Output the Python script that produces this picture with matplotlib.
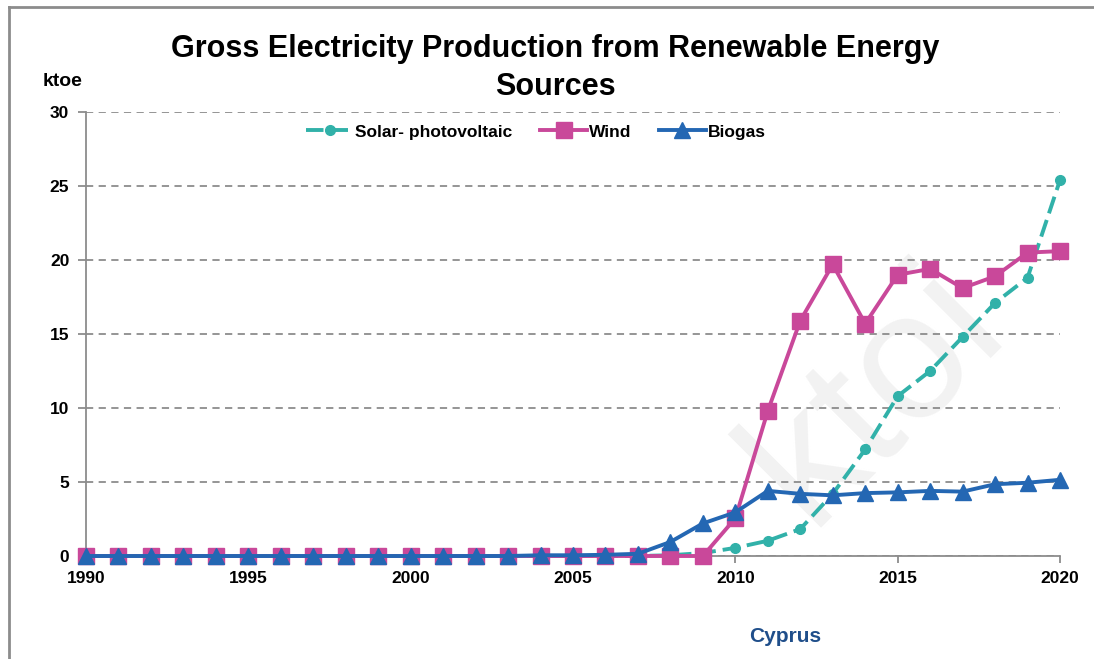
import numpy as np
import matplotlib
matplotlib.use("Agg")
import matplotlib.pyplot as plt
from matplotlib.lines import Line2D

years = list(range(1990, 2021))
solar = [0] * 18 + [0.05, 0.2, 0.55, 1.03, 1.82, 4.2, 7.2, 10.8, 12.5, 14.8, 17.1, 18.8, 25.4]
wind = [0] * 20 + [2.55, 9.8, 15.9, 19.7, 15.7, 19.0, 19.4, 18.1, 18.9, 20.5, 20.6]
biogas = [0] * 14 + [0.05, 0.05, 0.08, 0.15, 0.95, 2.2, 2.95, 4.4, 4.2, 4.1, 4.25, 4.3, 4.4, 4.35, 4.85, 4.95, 5.15]
series_names = ["Solar- photovoltaic", "Wind", "Biogas"]

c_solar = "#31b1a9"
c_wind = "#c9489a"
c_bio = "#2467b3"
grey = "#8c8c8c"

matplotlib.rcParams['font.family'] = ['Liberation Sans', 'DejaVu Sans']
matplotlib.rcParams['font.weight'] = 'bold'

fig = plt.figure(figsize=(10.94, 6.59), dpi=100)

# outer frame (left and top only visible)
fig.add_artist(Line2D([9 / 1094, 9 / 1094], [0, 1 - 7 / 659], transform=fig.transFigure, color=grey, lw=2))
fig.add_artist(Line2D([9 / 1094, 1], [1 - 7 / 659, 1 - 7 / 659], transform=fig.transFigure, color=grey, lw=2))

ax = fig.add_axes([86 / 1094, 1 - 556 / 659, (1060 - 86) / 1094, (556 - 112) / 659])
ax.patch.set_alpha(0)

# faint watermark behind the data
ax.text(0.80, 0.40, "ktoi", transform=fig.transFigure, rotation=45, fontsize=130, color="#f2f2f2",
        ha="center", va="center", fontweight="normal", zorder=0)

ax.plot(years, solar, color=c_solar, lw=2.8, dashes=(4.5, 1.8), marker='o', markersize=7,
        markeredgecolor=c_solar, label=series_names[0], zorder=3, clip_on=False)
ax.plot(years, wind, color=c_wind, lw=2.8, marker='s', markersize=11,
        label=series_names[1], zorder=4, clip_on=False)
ax.plot(years, biogas, color=c_bio, lw=2.8, marker='^', markersize=11,
        label=series_names[2], zorder=5, clip_on=False)

ax.set_xlim(1990, 2020)
ax.set_ylim(0, 30)
ax.set_xticks(range(1990, 2021, 5))
ax.set_yticks(range(0, 31, 5))
ax.yaxis.grid(True, color=grey, linestyle=(0, (4, 3)), lw=1.3, zorder=1)
ax.set_axisbelow(True)
for s in ["top", "right"]:
    ax.spines[s].set_visible(False)
ax.spines["left"].set_color(grey)
ax.spines["bottom"].set_color(grey)
ax.spines["left"].set_linewidth(1.3)
ax.spines["bottom"].set_linewidth(1.3)
ax.tick_params(axis="y", length=6, width=1.3, color=grey, labelsize=12.5, pad=6)
ax.tick_params(axis="x", length=5, width=1.3, color=grey, labelsize=12.5, pad=6)
ax.get_yticklines()[0].set_visible(False)

leg = ax.legend(loc="center", bbox_to_anchor=(0.462, 0.955), ncol=3, frameon=False, fontsize=12.5,
                handlelength=2.7, handletextpad=0.1, columnspacing=1.6)

fig.text(555 / 1094, 1 - 68 / 659, "Gross Electricity Production from Renewable Energy\nSources",
         ha="center", va="center", fontsize=22, fontweight="bold", linespacing=1.35)
fig.text(63 / 1094, 1 - 82 / 659, "ktoe", ha="center", va="center", fontsize=14, fontweight="bold")
fig.text(785 / 1094, 1 - 636 / 659, "Cyprus", ha="center", va="center", fontsize=15, fontweight="bold",
         color="#1f4e8a")

plt.savefig("out.png", format="png", dpi=100)
